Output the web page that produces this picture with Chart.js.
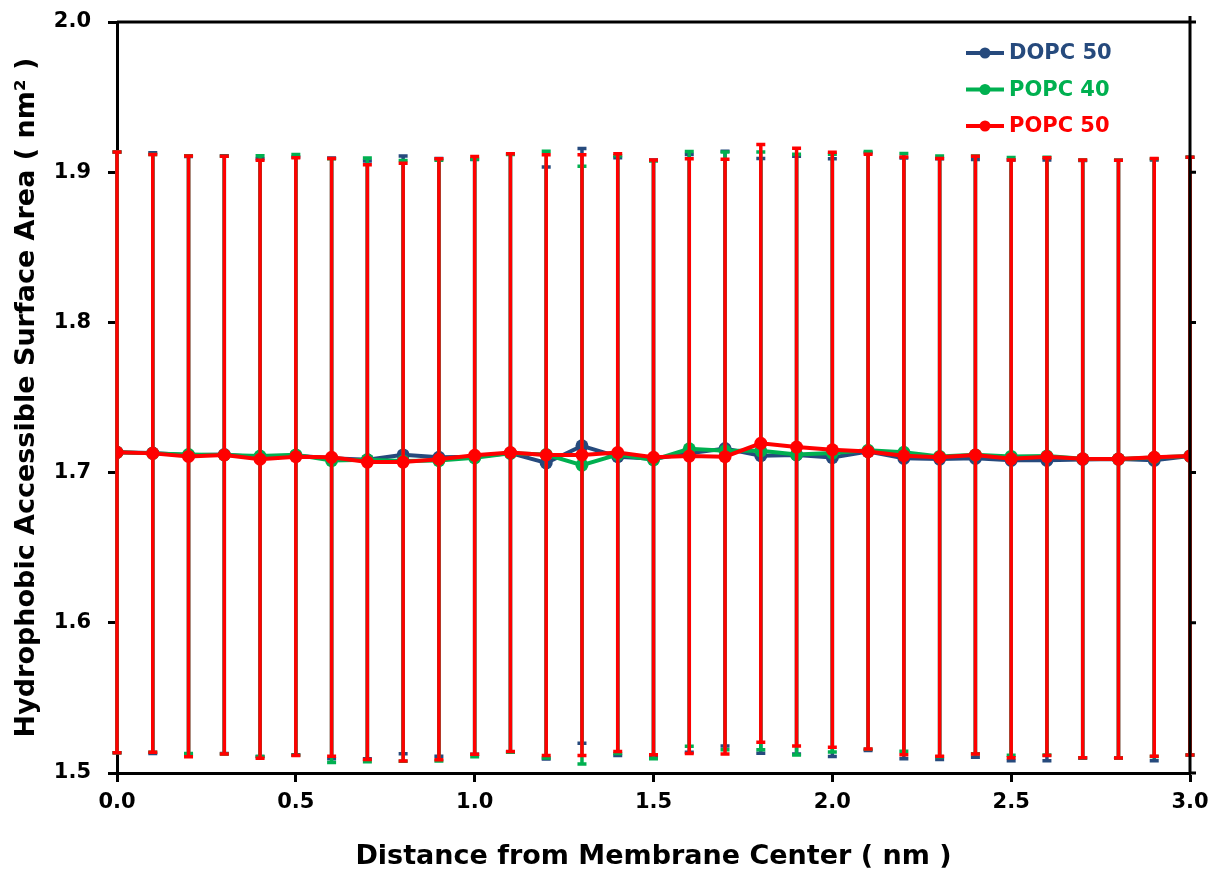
<!DOCTYPE html>
<html>
<head>
<meta charset="utf-8">
<title>Hydrophobic Accessible Surface Area</title>
<script src="https://cdn.jsdelivr.net/npm/chart.js@4.4.1/dist/chart.umd.min.js"></script>
<style>
  html, body { margin: 0; padding: 0; background: #ffffff; }
  #chart { display: block; }
</style>
</head>
<body>
<canvas id="chart" width="1217" height="877"></canvas>
<script>
// distance from membrane center (nm)
const distance = [0.0, 0.1, 0.2, 0.3, 0.4, 0.5, 0.6, 0.7, 0.8, 0.9, 1.0,
                  1.1, 1.2, 1.3, 1.4, 1.5, 1.6, 1.7, 1.8, 1.9, 2.0,
                  2.1, 2.2, 2.3, 2.4, 2.5, 2.6, 2.7, 2.8, 2.9, 3.0];

const seriesNames = ["DOPC 50", "POPC 40", "POPC 50"];
const seriesColors = ["#264a7d", "#00b050", "#ff0000"];

// mean accessible area (nm^2)
const dopc50 = [1.7135, 1.7130, 1.7115, 1.7120, 1.7100, 1.7112, 1.7095, 1.7085, 1.7118, 1.7102, 1.7105,
                1.7130, 1.7064, 1.7178, 1.7106, 1.7092, 1.7128, 1.7160, 1.7112, 1.7117, 1.7100,
                1.7140, 1.7095, 1.7090, 1.7095, 1.7082, 1.7082, 1.7088, 1.7090, 1.7082, 1.7110];
const popc40 = [1.7135, 1.7128, 1.7120, 1.7117, 1.7110, 1.7118, 1.7080, 1.7085, 1.7078, 1.7080, 1.7098,
                1.7128, 1.7120, 1.7050, 1.7120, 1.7085, 1.7158, 1.7145, 1.7145, 1.7120, 1.7130,
                1.7148, 1.7135, 1.7108, 1.7118, 1.7108, 1.7110, 1.7092, 1.7090, 1.7100, 1.7110];
const popc50 = [1.7135, 1.7128, 1.7108, 1.7117, 1.7089, 1.7106, 1.7102, 1.7070, 1.7070, 1.7089, 1.7115,
                1.7133, 1.7117, 1.7117, 1.7133, 1.7102, 1.7110, 1.7106, 1.7195, 1.7170, 1.7152,
                1.7140, 1.7112, 1.7102, 1.7117, 1.7092, 1.7106, 1.7092, 1.7090, 1.7102, 1.7110];

// standard deviation of each mean
const dopc50Err = [0.200, 0.200, 0.199, 0.199, 0.199, 0.199, 0.200, 0.199, 0.199, 0.199, 0.198,
                   0.199, 0.197, 0.198, 0.199, 0.199, 0.199, 0.198, 0.198, 0.199, 0.199,
                   0.199, 0.200, 0.200, 0.199, 0.200, 0.200, 0.199, 0.199, 0.200, 0.199];
const popc40Err = [0.200, 0.199, 0.199, 0.199, 0.200, 0.200, 0.201, 0.201, 0.200, 0.200, 0.199,
                   0.199, 0.202, 0.199, 0.199, 0.199, 0.198, 0.199, 0.199, 0.200, 0.199,
                   0.199, 0.199, 0.200, 0.199, 0.199, 0.199, 0.199, 0.199, 0.199, 0.199];
const popc50Err = [0.200, 0.199, 0.200, 0.199, 0.199, 0.199, 0.199, 0.198, 0.199, 0.200, 0.199,
                   0.199, 0.200, 0.200, 0.199, 0.198, 0.198, 0.198, 0.199, 0.199, 0.198,
                   0.198, 0.199, 0.199, 0.199, 0.199, 0.199, 0.199, 0.199, 0.199, 0.199];

const xTicks = [0.0, 0.5, 1.0, 1.5, 2.0, 2.5, 3.0];
const yTicks = [1.5, 1.6, 1.7, 1.8, 1.9, 2.0];

const FONT = "'DejaVu Sans', sans-serif";

function points(values) {
    return distance.map((d, i) => ({ x: d, y: values[i] }));
}

function makeDataset(idx, values, errors, order) {
    return {
        label: seriesNames[idx],
        data: points(values),
        errors: errors,
        borderColor: seriesColors[idx],
        backgroundColor: seriesColors[idx],
        pointBackgroundColor: seriesColors[idx],
        pointBorderWidth: 0,
        pointRadius: 6.5,
        borderWidth: 4,
        tension: 0,
        order: order
    };
}

// error bars, drawn right before the line of the same series
const errorBars = {
    id: "errorBars",
    beforeDatasetDraw(chart, args) {
        const ds = chart.data.datasets[args.index];
        const meta = args.meta;
        const yScale = chart.scales.y;
        const ctx = chart.ctx;
        ctx.save();
        ctx.strokeStyle = ds.borderColor;
        ctx.lineWidth = 3.5;
        meta.data.forEach((pt, i) => {
            const v = ds.data[i].y;
            const e = ds.errors[i];
            const top = yScale.getPixelForValue(v + e);
            const bot = yScale.getPixelForValue(v - e);
            ctx.beginPath();
            ctx.moveTo(pt.x, top);
            ctx.lineTo(pt.x, bot);
            ctx.moveTo(pt.x - 4.5, top);
            ctx.lineTo(pt.x + 4.5, top);
            ctx.moveTo(pt.x - 4.5, bot);
            ctx.lineTo(pt.x + 4.5, bot);
            ctx.stroke();
        });
        ctx.restore();
    }
};

// top and right frame lines, with outer ticks on the right
const frame = {
    id: "frame",
    afterDraw(chart) {
        const { ctx, chartArea } = chart;
        const yScale = chart.scales.y;
        ctx.save();
        ctx.strokeStyle = "#000000";
        ctx.lineWidth = 3;
        ctx.beginPath();
        ctx.moveTo(chartArea.left, chartArea.top);
        ctx.lineTo(chartArea.right + 6, chartArea.top);
        ctx.moveTo(chartArea.right, chartArea.top - 6);
        ctx.lineTo(chartArea.right, chartArea.bottom);
        yScale.ticks.forEach(t => {
            const py = yScale.getPixelForValue(t.value);
            ctx.moveTo(chartArea.right, py);
            ctx.lineTo(chartArea.right + 6, py);
        });
        ctx.stroke();
        ctx.restore();
    }
};

// legend: short line with a dot, label in the series colour
const legendBox = {
    id: "legendBox",
    afterDraw(chart) {
        const ctx = chart.ctx;
        const x0 = chart.chartArea.right - 224;
        const y0 = chart.chartArea.top + 31;
        ctx.save();
        ctx.font = "bold 21px " + FONT;
        ctx.textBaseline = "middle";
        chart.data.datasets
            .slice()
            .sort((a, b) => seriesNames.indexOf(a.label) - seriesNames.indexOf(b.label))
            .forEach((ds, i) => {
                const y = y0 + i * 36.5;
                ctx.strokeStyle = ds.borderColor;
                ctx.fillStyle = ds.borderColor;
                ctx.lineWidth = 4;
                ctx.beginPath();
                ctx.moveTo(x0, y);
                ctx.lineTo(x0 + 38, y);
                ctx.stroke();
                ctx.beginPath();
                ctx.arc(x0 + 19, y, 5.5, 0, Math.PI * 2);
                ctx.fill();
                ctx.fillText(ds.label, x0 + 43, y + 1);
            });
        ctx.restore();
    }
};

const ctx = document.getElementById("chart").getContext("2d");

new Chart(ctx, {
    type: "line",
    data: {
        datasets: [
            makeDataset(0, dopc50, dopc50Err, 3),
            makeDataset(1, popc40, popc40Err, 2),
            makeDataset(2, popc50, popc50Err, 1)
        ]
    },
    options: {
        responsive: false,
        devicePixelRatio: 1,
        animation: false,
        layout: { padding: { top: 22, right: 27, left: 0, bottom: 0 } },
        plugins: {
            legend: { display: false },
            tooltip: { enabled: false }
        },
        scales: {
            x: {
                type: "linear",
                min: 0,
                max: 3,
                afterFit: s => { s.height = 104; },
                afterBuildTicks: s => { s.ticks = xTicks.map(v => ({ value: v })); },
                border: { color: "#000000", width: 3 },
                grid: {
                    drawOnChartArea: false,
                    drawTicks: true,
                    tickLength: 9,
                    tickWidth: 3,
                    tickColor: "#000000"
                },
                ticks: {
                    color: "#000000",
                    font: { family: FONT, size: 21, weight: "bold" },
                    padding: 8,
                    maxRotation: 0,
                    callback: v => v.toFixed(1)
                },
                title: {
                    display: true,
                    text: "Distance from Membrane Center ( nm )",
                    color: "#000000",
                    font: { family: FONT, size: 27, weight: "bold" },
                    padding: { top: 0, bottom: 4 }
                }
            },
            y: {
                min: 1.5,
                max: 2.0,
                afterFit: s => {
                    s.width = 117;
                    s.paddingTop = 0;
                    s.paddingBottom = 0;
                },
                afterBuildTicks: s => { s.ticks = yTicks.map(v => ({ value: v })); },
                border: { color: "#000000", width: 3 },
                grid: {
                    drawOnChartArea: false,
                    drawTicks: true,
                    tickLength: 9,
                    tickWidth: 3,
                    tickColor: "#000000"
                },
                ticks: {
                    color: "#000000",
                    font: { family: FONT, size: 21, weight: "bold" },
                    padding: 17,
                    callback: v => v.toFixed(1)
                },
                title: {
                    display: true,
                    text: "Hydrophobic Accessible Surface Area ( nm\u00b2 )",
                    color: "#000000",
                    font: { family: FONT, size: 27, weight: "bold" },
                    padding: { top: 11, bottom: 0 }
                }
            }
        }
    },
    plugins: [errorBars, frame, legendBox]
});
</script>
</body>
</html>
